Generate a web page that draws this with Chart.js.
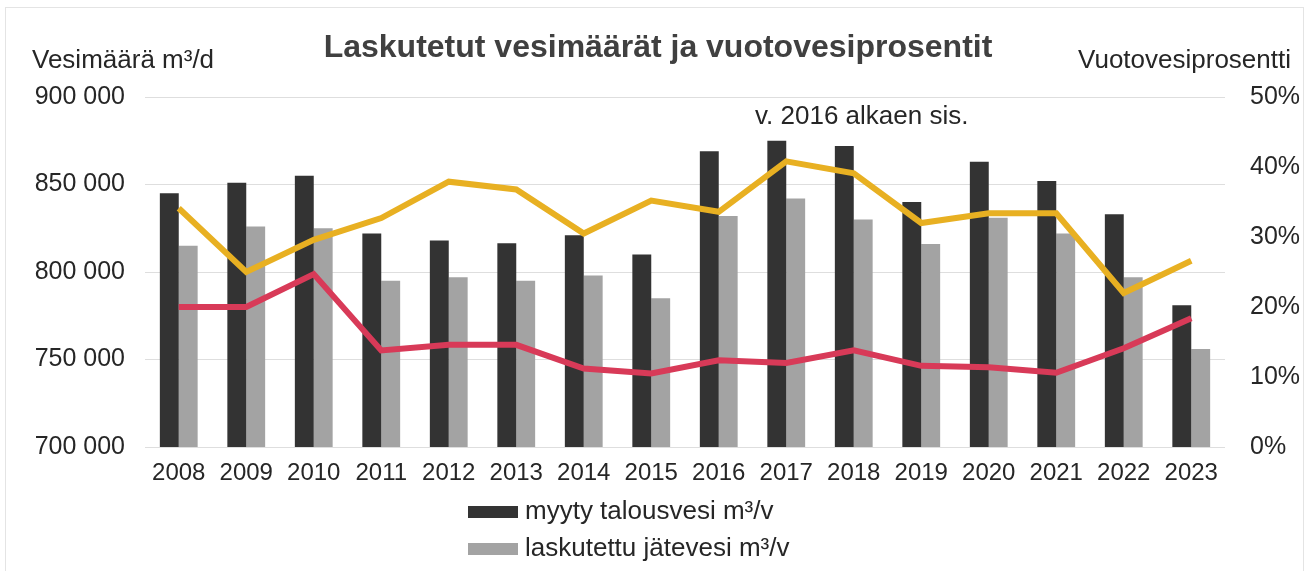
<!DOCTYPE html>
<html lang="fi">
<head>
    <meta charset="UTF-8">
    <title>Laskutetut vesimäärät ja vuotovesiprosentit</title>
    <script src="https://cdn.jsdelivr.net/npm/chart.js"></script>
    <style>
        body {
            margin: 0;
            background: #fff;
            font-family: "Liberation Sans", Arial, sans-serif;
        }
        .wrap {
            position: relative;
            width: 1309px;
            height: 571px;
        }
        .frame {
            position: absolute;
            left: 5px;
            top: 7px;
            width: 1299px;
            height: 570px;
            border: 1px solid #e4e4e4;
            border-bottom: none;
            box-sizing: border-box;
        }
        .legend {
            position: absolute;
            left: 468px;
            top: 494px;
            font-size: 26px;
            color: #262626;
        }
        .legend div {
            height: 37px;
            line-height: 32px;
            white-space: nowrap;
        }
        .legend span {
            display: inline-block;
            width: 50px;
            height: 12px;
            margin-right: 7px;
            vertical-align: middle;
        }
    </style>
</head>
<body>
<div class="wrap">
    <div class="frame"></div>
    <canvas id="chart" width="1309" height="571"></canvas>
    <div class="legend">
        <div><span style="background:#333333"></span>myyty talousvesi m³/v</div>
        <div><span style="background:#a3a3a3"></span>laskutettu jätevesi m³/v</div>
    </div>
</div>
<script>
    // data
    const years = ['2008', '2009', '2010', '2011', '2012', '2013', '2014', '2015',
                   '2016', '2017', '2018', '2019', '2020', '2021', '2022', '2023'];
    const myytyTalousvesi = [845000, 851000, 855000, 822000, 818000, 816500, 821000, 810000,
                             869000, 875000, 872000, 840000, 863000, 852000, 833000, 781000];
    const laskutettuJatevesi = [815000, 826000, 825000, 795000, 797000, 795000, 798000, 785000,
                                832000, 842000, 830000, 816000, 831000, 822000, 797000, 756000];
    const vuotoYellow = [34.1, 25.0, 29.6, 32.7, 37.9, 36.8, 30.5, 35.2,
                         33.6, 40.8, 39.1, 32.0, 33.4, 33.4, 22.0, 26.6];
    const vuotoRed = [20.0, 20.0, 24.7, 13.8, 14.6, 14.6, 11.2, 10.5,
                      12.4, 12.0, 13.8, 11.6, 11.4, 10.6, 14.1, 18.4];

    const FONT = '"Liberation Sans", Arial, sans-serif';
    const TEXT = '#262626';

    function spaced(v) {
        return String(v).replace(/\B(?=(\d{3})+(?!\d))/g, ' ');
    }

    // title, axis titles and note
    const textPlugin = {
        id: 'texts',
        afterDraw(chart) {
            const c = chart.ctx;
            c.save();
            c.textBaseline = 'middle';
            c.fillStyle = '#404040';
            c.font = 'bold 32px ' + FONT;
            c.textAlign = 'center';
            c.fillText('Laskutetut vesimäärät ja vuotovesiprosentit', 658, 48);
            c.fillStyle = TEXT;
            c.font = '26px ' + FONT;
            c.textAlign = 'left';
            c.fillText('Vesimäärä m³/d', 32, 61);
            c.textAlign = 'right';
            c.fillText('Vuotovesiprosentti', 1291, 61);
            c.textAlign = 'left';
            c.fillText('v. 2016 alkaen sis.', 755, 117);
            c.restore();
        }
    };

    new Chart(document.getElementById('chart'), {
        data: {
            labels: years,
            datasets: [
                {
                    type: 'line',
                    label: 'vuoto 1',
                    data: vuotoYellow,
                    yAxisID: 'y1',
                    borderColor: '#E8B022',
                    borderWidth: 6,
                    pointRadius: 0,
                    tension: 0,
                    order: 1
                },
                {
                    type: 'line',
                    label: 'vuoto 2',
                    data: vuotoRed,
                    yAxisID: 'y1',
                    borderColor: '#D83A58',
                    borderWidth: 6,
                    pointRadius: 0,
                    tension: 0,
                    order: 1
                },
                {
                    type: 'bar',
                    label: 'myyty talousvesi m³/v',
                    data: myytyTalousvesi,
                    yAxisID: 'y',
                    backgroundColor: '#333333',
                    categoryPercentage: 0.56,
                    barPercentage: 1.0,
                    order: 2
                },
                {
                    type: 'bar',
                    label: 'laskutettu jätevesi m³/v',
                    data: laskutettuJatevesi,
                    yAxisID: 'y',
                    backgroundColor: '#a3a3a3',
                    categoryPercentage: 0.56,
                    barPercentage: 1.0,
                    order: 2
                }
            ]
        },
        options: {
            responsive: false,
            animation: false,
            layout: {
                padding: { top: 97, bottom: 84, left: 0, right: 0 }
            },
            plugins: {
                legend: { display: false },
                title: { display: false },
                tooltip: { enabled: false }
            },
            scales: {
                x: {
                    grid: { display: false, drawTicks: false },
                    border: { display: false },
                    ticks: {
                        color: TEXT,
                        font: { family: FONT, size: 24 },
                        padding: 12,
                        maxRotation: 0,
                        autoSkip: false
                    },
                    afterFit(scale) { scale.height = 40; }
                },
                y: {
                    position: 'left',
                    min: 700000,
                    max: 900000,
                    grid: { color: '#dedede', drawTicks: false },
                    border: { display: false },
                    ticks: {
                        stepSize: 50000,
                        color: TEXT,
                        font: { family: FONT, size: 25 },
                        padding: 20,
                        callback: v => spaced(v)
                    },
                    afterFit(scale) { scale.width = 145; }
                },
                y1: {
                    position: 'right',
                    min: 0,
                    max: 50,
                    grid: { display: false, drawTicks: false },
                    border: { display: false },
                    ticks: {
                        stepSize: 10,
                        color: TEXT,
                        font: { family: FONT, size: 25 },
                        padding: 25,
                        callback: v => v + '%'
                    },
                    afterFit(scale) { scale.width = 84; }
                }
            }
        },
        plugins: [textPlugin]
    });
</script>
</body>
</html>
